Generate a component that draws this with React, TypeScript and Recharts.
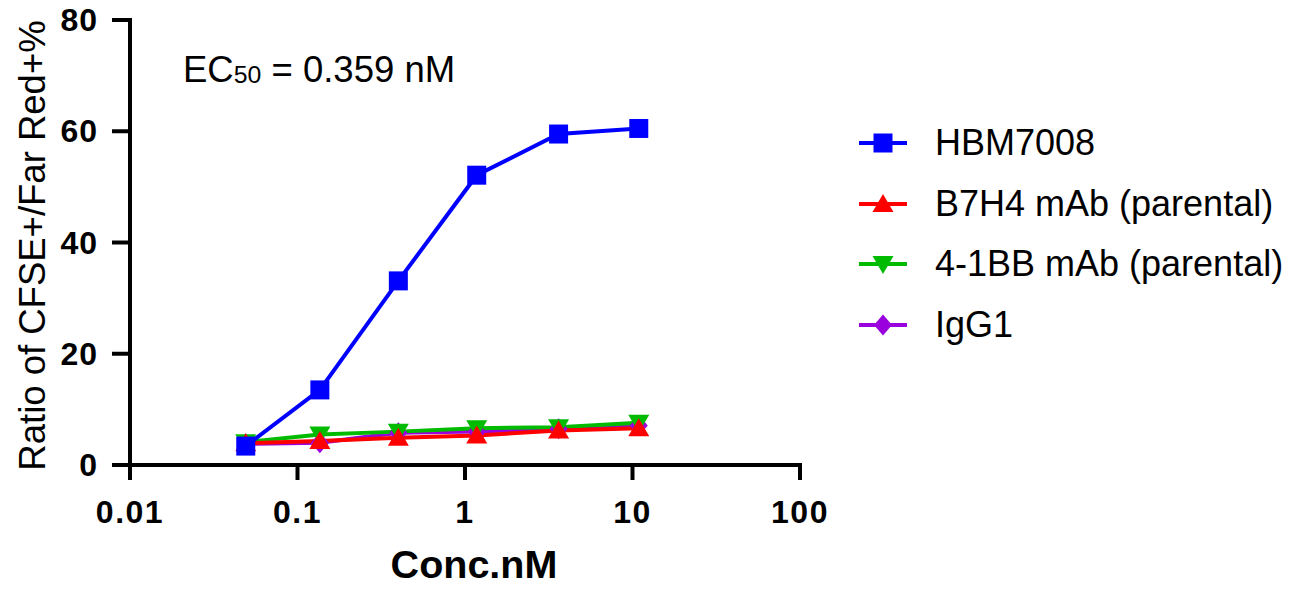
import { LineChart, Line, XAxis, YAxis, Label } from 'recharts';

// concentrations (nM), log-spaced dilution series
const conc = [0.0491, 0.136, 0.4, 1.175, 3.62, 10.9];
const hbm7008 = [3.4, 13.5, 33.1, 52.1, 59.5, 60.5];
const b7h4 = [3.9, 4.3, 4.9, 5.3, 6.2, 6.6];
const bb41 = [4.1, 5.5, 6.0, 6.6, 6.8, 7.6];
const igg1 = [3.8, 4.0, 5.8, 6.0, 6.5, 7.1];

const xTicks = [0.01, 0.1, 1, 10, 100];
const yTicks = [0, 20, 40, 60, 80];

const FONT = '"Liberation Sans", Arial, sans-serif';

type Shape = 'square' | 'up' | 'down' | 'diamond';

const series: { key: string; name: string; color: string; shape: Shape }[] = [
  { key: 'hbm', name: 'HBM7008', color: '#0000FF', shape: 'square' },
  { key: 'b7h4', name: 'B7H4 mAb (parental)', color: '#FF0000', shape: 'up' },
  { key: 'bb', name: '4-1BB mAb (parental)', color: '#00BB00', shape: 'down' },
  { key: 'igg', name: 'IgG1', color: '#9900DD', shape: 'diamond' },
];

const data = conc.map((c, i) => ({
  conc: c,
  hbm: hbm7008[i],
  b7h4: b7h4[i],
  bb: bb41[i],
  igg: igg1[i],
}));

function markerPath(shape: Shape, cx: number, cy: number) {
  switch (shape) {
    case 'square':
      return `M${cx - 9.5},${cy - 9.5}h19v19h-19z`;
    case 'up':
      return `M${cx},${cy - 10}L${cx + 10.5},${cy + 8}L${cx - 10.5},${cy + 8}z`;
    case 'down':
      return `M${cx},${cy + 10}L${cx + 10.5},${cy - 8}L${cx - 10.5},${cy - 8}z`;
    default:
      return `M${cx},${cy - 10.5}L${cx + 9},${cy}L${cx},${cy + 10.5}L${cx - 9},${cy}z`;
  }
}

const makeDot = (shape: Shape, color: string) => (props: any) => {
  const { cx, cy, index } = props;
  if (cx == null || cy == null) return <g key={index} />;
  return <path key={index} d={markerPath(shape, cx, cy)} fill={color} />;
};

const XTick = (props: any) => {
  const { x, y, payload } = props;
  return (
    <text x={x} y={y + 41} textAnchor="middle" fontFamily={FONT} fontWeight="bold" fontSize={32} letterSpacing={1.5} fill="#000">
      {String(payload.value)}
    </text>
  );
};

const YTick = (props: any) => {
  const { x, y, payload } = props;
  return (
    <text x={x} y={y + 11} textAnchor="end" fontFamily={FONT} fontWeight="bold" fontSize={32} letterSpacing={1} fill="#000">
      {String(payload.value)}
    </text>
  );
};

function Legend() {
  return (
    <div style={{ position: 'absolute', left: 858, top: 113, fontFamily: FONT, fontSize: 36, color: '#000' }}>
      {series.map((s) => (
        <div key={s.key} style={{ display: 'flex', alignItems: 'center', height: 60.5 }}>
          <svg width={50} height={24} style={{ marginRight: 27 }}>
            <line x1={1} y1={12} x2={49} y2={12} stroke={s.color} strokeWidth={4} />
            <path d={markerPath(s.shape, 25, 12)} fill={s.color} />
          </svg>
          <span style={{ lineHeight: 1, whiteSpace: 'nowrap' }}>{s.name}</span>
        </div>
      ))}
    </div>
  );
}

export default function App() {
  const axisStyle = { stroke: '#000', strokeWidth: 4, strokeLinecap: 'square' as const };
  // draw order: IgG1 at the bottom, HBM7008 on top
  const drawOrder = [...series].reverse();
  return (
    <div style={{ position: 'absolute', left: 0, top: 0, width: 1307, height: 591, background: '#fff' }}>
      <LineChart width={1307} height={591} data={data} margin={{ top: 20, right: 507, bottom: 46, left: 0 }}>
        <XAxis
          dataKey="conc"
          type="number"
          scale="log"
          domain={[0.01, 100]}
          ticks={xTicks}
          allowDataOverflow
          height={80}
          axisLine={axisStyle}
          tickLine={{ stroke: '#000', strokeWidth: 4 }}
          tickSize={15}
          tick={<XTick />}
        >
          <Label
            content={(p: any) => {
              const vb = p.viewBox;
              return (
                <text x={vb.x + vb.width / 2 + 9} y={vb.y + 113} textAnchor="middle" fontFamily={FONT} fontWeight="bold" fontSize={39.5} fill="#000">
                  Conc.nM
                </text>
              );
            }}
          />
        </XAxis>
        <YAxis
          type="number"
          domain={[0, 80]}
          ticks={yTicks}
          width={130}
          axisLine={axisStyle}
          tickLine={{ stroke: '#000', strokeWidth: 4 }}
          tickSize={18}
          tickMargin={14}
          tick={<YTick />}
        >
          <Label
            content={(p: any) => {
              const vb = p.viewBox;
              const cx = vb.x + 45;
              const cy = vb.y + vb.height / 2 + 3;
              return (
                <text x={cx} y={cy} transform={`rotate(-90, ${cx}, ${cy})`} textAnchor="middle" fontFamily={FONT} fontSize={36.5} fill="#000">
                  Ratio of CFSE+/Far Red+%
                </text>
              );
            }}
          />
        </YAxis>
        {drawOrder.map((s) => (
          <Line
            key={s.key}
            type="linear"
            dataKey={s.key}
            name={s.name}
            stroke={s.color}
            strokeWidth={4}
            dot={makeDot(s.shape, s.color)}
            activeDot={false}
            isAnimationActive={false}
          />
        ))}
      </LineChart>
      <div style={{ position: 'absolute', left: 183, top: 52, fontFamily: FONT, fontSize: 36.5, lineHeight: 1, color: '#000', whiteSpace: 'nowrap' }}>
        EC<span style={{ fontSize: '0.68em', verticalAlign: '-0.04em' }}>50</span> = 0.359 nM
      </div>
      <Legend />
    </div>
  );
}
